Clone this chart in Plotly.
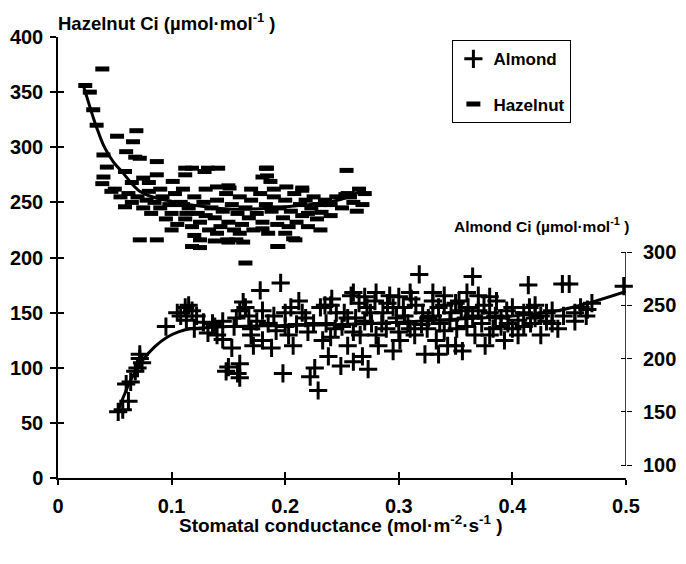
import plotly.graph_objects as go

# ---------------- data ----------------
# Hazelnut: stomatal conductance (x) vs Ci (left axis, µmol/mol)
hazel_x = [0.024, 0.039, 0.028, 0.031, 0.034, 0.040, 0.052, 0.069, 0.066, 0.060, 0.068, 0.072,
           0.043, 0.040, 0.039, 0.047, 0.059, 0.059, 0.072, 0.087, 0.087, 0.087, 0.101, 0.112,
           0.132, 0.112, 0.113, 0.118, 0.125, 0.149, 0.157, 0.184, 0.184, 0.193, 0.207, 0.231,
           0.215, 0.232, 0.254, 0.255, 0.165, 0.118, 0.129, 0.141, 0.183, 0.180, 0.187, 0.140,
           0.151, 0.215, 0.201, 0.138, 0.150, 0.163, 0.194, 0.209, 0.125, 0.257, 0.268, 0.253,
           0.050, 0.055, 0.062, 0.065, 0.070, 0.075, 0.078, 0.080, 0.082, 0.085, 0.090, 0.092,
           0.095, 0.098, 0.100, 0.103, 0.105, 0.108, 0.110, 0.112, 0.115, 0.118, 0.120, 0.123,
           0.125, 0.128, 0.130, 0.133, 0.135, 0.138, 0.140, 0.143, 0.145, 0.148, 0.150, 0.153,
           0.155, 0.158, 0.160, 0.162, 0.165, 0.168, 0.170, 0.172, 0.175, 0.178, 0.180, 0.183,
           0.185, 0.188, 0.190, 0.193, 0.195, 0.198, 0.200, 0.203, 0.205, 0.208, 0.210, 0.213,
           0.215, 0.218, 0.220, 0.223, 0.225, 0.228, 0.230, 0.235, 0.240, 0.245, 0.250, 0.260,
           0.265, 0.270, 0.263, 0.120, 0.140, 0.160, 0.180, 0.200, 0.100, 0.170, 0.190, 0.150,
           0.220, 0.240, 0.110, 0.130, 0.090, 0.080, 0.075, 0.065]
hazel_ci = [356, 371, 350, 334, 320, 293, 310, 315, 305, 296, 291, 290,
            282, 273, 267, 260, 278, 246, 216, 216, 287, 275, 269, 281,
            281, 275, 240, 210, 216, 216, 216, 281, 274, 210, 217, 225,
            261, 241, 279, 258, 195, 281, 278, 281, 281, 273, 269, 264,
            263, 263, 264, 215, 214, 214, 210, 216, 209, 255, 248, 257,
            262, 255, 258, 250, 255, 245, 252, 260, 240, 250, 245, 255,
            235, 248, 240, 258, 230, 250, 262, 235, 245, 228, 255, 240,
            232, 250, 262, 225, 245, 236, 252, 228, 242, 258, 232, 248,
            225, 240, 255, 230, 245, 236, 252, 225, 240, 258, 232, 248,
            222, 242, 255, 230, 245, 236, 252, 228, 242, 258, 232, 248,
            238, 252, 228, 245, 255, 235, 248, 252, 238, 255, 245, 250,
            262, 258, 242, 220, 222, 222, 226, 222, 225, 262, 262, 265,
            240, 248, 248, 238, 262, 268, 272, 268]

# Almond: stomatal conductance (x) vs Ci (right axis, µmol/mol)
almond_x = [0.053, 0.057, 0.062, 0.060, 0.064, 0.068, 0.070, 0.072, 0.074, 0.072,
            0.095, 0.105, 0.108, 0.112, 0.115, 0.118, 0.113, 0.120, 0.122,
            0.128, 0.132, 0.136, 0.140, 0.145, 0.138,
            0.148, 0.150, 0.158, 0.160, 0.160, 0.153, 0.157, 0.160, 0.163, 0.165, 0.168, 0.170,
            0.172, 0.178, 0.180, 0.185, 0.188, 0.192, 0.196, 0.198, 0.200, 0.203, 0.207, 0.212,
            0.218, 0.222, 0.226, 0.229, 0.231, 0.233, 0.236, 0.238, 0.241, 0.244, 0.249, 0.252,
            0.255, 0.258, 0.260, 0.262, 0.266, 0.268, 0.272, 0.273, 0.276, 0.279, 0.282, 0.286,
            0.289, 0.292, 0.295, 0.298, 0.301, 0.304, 0.308, 0.311, 0.314, 0.318, 0.321, 0.323,
            0.326, 0.330, 0.333, 0.335, 0.336, 0.340, 0.343, 0.346, 0.350, 0.351, 0.353, 0.356,
            0.359, 0.361, 0.365, 0.367, 0.370, 0.373, 0.376, 0.380, 0.383, 0.386, 0.390, 0.393,
            0.396, 0.400, 0.405, 0.410, 0.414, 0.416, 0.420, 0.425, 0.430, 0.435, 0.440, 0.444,
            0.450, 0.455, 0.460, 0.466, 0.470, 0.498,
            0.205, 0.215, 0.225, 0.235, 0.245, 0.255, 0.265, 0.275, 0.285, 0.295, 0.305, 0.315,
            0.325, 0.335, 0.345, 0.355, 0.365, 0.375, 0.385, 0.395, 0.405, 0.415, 0.425, 0.435,
            0.210, 0.250, 0.270, 0.290, 0.310, 0.330, 0.350, 0.370, 0.390, 0.410, 0.190, 0.180,
            0.175, 0.155, 0.145, 0.170, 0.200, 0.240, 0.260, 0.280, 0.300, 0.320, 0.340, 0.360,
            0.380, 0.400, 0.420, 0.430, 0.445, 0.455, 0.465, 0.300, 0.280, 0.260, 0.240, 0.220,
            0.340, 0.360, 0.380, 0.330, 0.270, 0.310]
almond_ci = [150, 152, 160, 176, 178, 188, 191, 204, 196, 200,
             230, 243, 240, 248, 250, 245, 236, 228, 240,
             234, 224, 233, 222, 218, 230,
             188, 192, 186, 182, 195, 210, 238, 245, 253, 248, 240, 222,
             212, 264, 217, 233, 210, 226, 271, 186, 243, 222, 212, 254,
             238, 183, 191, 170, 248, 217, 233, 202, 256, 228, 193, 243,
             212, 259, 197, 238, 222, 202, 248, 190, 233, 254, 212, 243,
             228, 259, 207, 238, 217, 248, 233, 256, 222, 279, 243, 204,
             238, 254, 217, 204, 233, 259, 212, 243, 212, 228, 254, 207,
             238, 248, 277, 222, 259, 233, 212, 243, 228, 254, 238, 217,
             233, 248, 222, 243, 269, 233, 238, 222, 243, 233, 228, 270,
             270, 243, 248, 246, 252, 268,
             248, 243, 233, 250, 243, 238, 252, 243, 233, 248, 240, 250,
             228, 248, 236, 245, 240, 250, 240, 245, 236, 248, 240, 245,
             232, 230, 235, 252, 228, 240, 252, 245, 230, 230, 240, 245,
             235, 230, 235, 228, 230, 220, 225, 222, 225, 232, 226, 230,
             222, 228, 250, 235, 240, 235, 240, 258, 262, 262, 250, 225,
             250, 262, 258, 262, 258, 262]

# Fitted curves
hazel_fit_x = [0.022, 0.031, 0.034, 0.040, 0.046, 0.050, 0.057, 0.065, 0.072, 0.080, 0.090,
               0.100, 0.115, 0.130, 0.150, 0.170, 0.190, 0.210, 0.230, 0.250, 0.260, 0.270]
hazel_fit_y = [357, 327, 318, 302, 291, 285, 277, 267, 260, 256, 253,
               251, 248, 246, 244, 244, 245, 247, 249, 253, 257, 262]
almond_fit_x = [0.053, 0.058, 0.065, 0.075, 0.085, 0.096, 0.106, 0.116, 0.130, 0.150,
                0.200, 0.250, 0.300, 0.350, 0.400, 0.440, 0.470, 0.500]
almond_fit_y = [151, 165, 182, 199, 211, 220, 225, 228, 229, 230,
                231, 232, 234, 237, 240, 245, 253, 263]

left_ticks = [0, 50, 100, 150, 200, 250, 300, 350, 400]
right_ticks = [100, 150, 200, 250, 300]
x_ticks = [0, 0.1, 0.2, 0.3, 0.4, 0.5]
x_tick_text = ["0", "0.1", "0.2", "0.3", "0.4", "0.5"]

FONT = "Liberation Sans"
TICKFONT = dict(family=FONT, size=20, color="black", weight="bold")

fig = go.Figure()

fig.add_trace(go.Scatter(
    x=almond_x, y=almond_ci, mode="markers", name="Almond", yaxis="y2", legendgroup="a",
    marker=dict(symbol="cross-thin", size=13, line=dict(width=3, color="black"), color="black"),
    cliponaxis=False))
fig.add_trace(go.Scatter(
    x=hazel_x, y=hazel_ci, mode="markers", name="Hazelnut", legendgroup="h",
    marker=dict(symbol="line-ew", size=10, line=dict(width=5, color="black"), color="black"),
    cliponaxis=False))
fig.add_trace(go.Scatter(
    x=hazel_fit_x, y=hazel_fit_y, mode="lines", showlegend=False,
    line=dict(color="black", width=3, shape="spline")))
fig.add_trace(go.Scatter(
    x=almond_fit_x, y=almond_fit_y, mode="lines", showlegend=False, yaxis="y2",
    line=dict(color="black", width=3, shape="spline"), cliponaxis=False))

# right axis line only from 100 to 300
fig.add_shape(type="line", xref="x", yref="y2", x0=0.5, x1=0.5, y0=100, y1=300,
              line=dict(color="black", width=1.5))

# page body has an 8px margin, so the plot area is shifted by compensating margins
fig.update_layout(
    width=686, height=564,
    margin=dict(l=50, r=68, t=29, b=94, autoexpand=False),
    paper_bgcolor="white", plot_bgcolor="white",
    showlegend=True,
    legend=dict(x=0.694, y=0.993, xanchor="left", yanchor="top",
                bordercolor="black", borderwidth=1.2, bgcolor="white",
                font=dict(family=FONT, size=17, color="black", weight="bold"),
                itemwidth=30, tracegroupgap=20),
    xaxis=dict(range=[0, 0.5], tickvals=x_ticks, ticktext=x_tick_text, automargin=False,
               showgrid=False, zeroline=False, showline=True, linecolor="black", linewidth=1.5,
               ticks="outside", ticklen=5, tickwidth=1.5, tickcolor="black",
               tickfont=TICKFONT, ticklabelstandoff=4),
    xaxis2=dict(range=[0, 0.5], overlaying="x", anchor="y", side="bottom", automargin=False,
                tickvals=x_ticks, showticklabels=False, showgrid=False, zeroline=False,
                ticks="inside", ticklen=6, tickwidth=1.5, tickcolor="black"),
    yaxis=dict(range=[0, 400], tickvals=left_ticks, automargin=False,
               showgrid=False, zeroline=False, showline=True, linecolor="black", linewidth=1.5,
               ticks="outside", ticklen=6, tickwidth=1.5, tickcolor="black",
               tickfont=TICKFONT, ticklabelstandoff=3),
    yaxis3=dict(range=[0, 400], overlaying="y", anchor="x", side="left", automargin=False,
                tickvals=left_ticks, showticklabels=False, showgrid=False, zeroline=False,
                ticks="inside", ticklen=6, tickwidth=1.5, tickcolor="black"),
    yaxis2=dict(range=[87.8, 502], overlaying="y", anchor="x", side="right", automargin=False,
                tickvals=right_ticks, showgrid=False, zeroline=False, showline=False,
                ticks="outside", ticklen=5, tickwidth=1.2, tickcolor="black",
                tickfont=TICKFONT, ticklabelstandoff=7),
    yaxis4=dict(range=[87.8, 502], overlaying="y", anchor="x", side="right", automargin=False,
                tickvals=right_ticks, showticklabels=False, showgrid=False, zeroline=False,
                ticks="inside", ticklen=5, tickwidth=1.2, tickcolor="black"),
    annotations=[
        dict(text="Hazelnut Ci (µmol·mol<sup>-1</sup> )", xref="paper", yref="paper",
             x=(56 - 58) / 568, y=(478 - 22) / 441, xanchor="left", yanchor="middle",
             showarrow=False, font=dict(family=FONT, size=18.5, color="black", weight="bold")),
        dict(text="Almond Ci (µmol·mol<sup>-1</sup> )", xref="paper", yref="paper",
             x=(452 - 58) / 568, y=(478 - 225) / 441, xanchor="left", yanchor="middle",
             showarrow=False, font=dict(family=FONT, size=15.5, color="black", weight="bold")),
        dict(text="Stomatal conductance (mol·m<sup>-2</sup>·s<sup>-1</sup> )",
             xref="paper", yref="paper",
             x=(341 - 58) / 568, y=(478 - 524) / 441, xanchor="center", yanchor="middle",
             showarrow=False, font=dict(family=FONT, size=19, color="black", weight="bold")),
    ],
)

# invisible traces to activate overlay axes
fig.add_trace(go.Scatter(x=[None], y=[None], xaxis="x2", yaxis="y3", showlegend=False))
fig.add_trace(go.Scatter(x=[None], y=[None], yaxis="y4", showlegend=False))

fig.write_html("out.html")
